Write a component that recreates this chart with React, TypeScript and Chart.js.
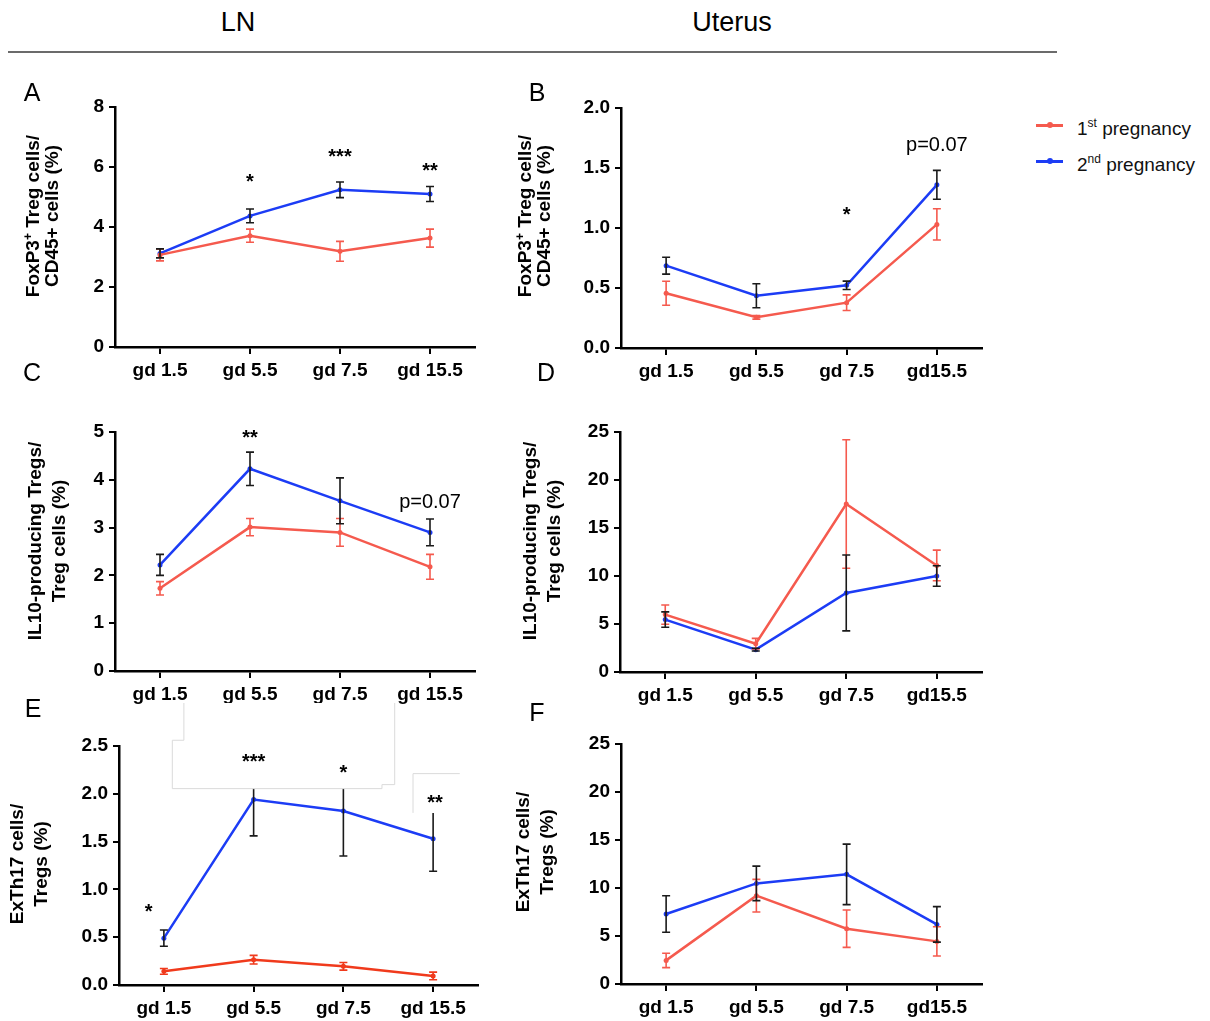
import React, { useEffect, useRef } from 'react';
import { Chart, registerables } from 'chart.js';

Chart.register(...registerables);

const FONT = '"Liberation Sans", Arial, Helvetica, sans-serif';
const RED = '#f55a4e';
const RED_E = '#f03a1c';
const BLUE = '#1c3cf5';
const ERR_DARK = '#1a1a1a';

// ---------- categories ----------
const labelsLN = ['gd 1.5', 'gd 5.5', 'gd 7.5', 'gd 15.5'];
const labelsUt = ['gd 1.5', 'gd 5.5', 'gd 7.5', 'gd15.5'];

// ---------- A: FoxP3+ Treg / CD45+ (LN) ----------
const aFirst = [3.07, 3.71, 3.19, 3.63];
const aFirstSem = [0.2, 0.22, 0.33, 0.3];
const aSecond = [3.12, 4.37, 5.24, 5.1];
const aSecondSem = [0.15, 0.23, 0.26, 0.25];
const aNotes: [number, number, string][] = [[1, 5.67, '*'], [2, 6.5, '***'], [3, 6.03, '**']];

// ---------- B: FoxP3+ Treg / CD45+ (Uterus) ----------
const bFirst = [0.456, 0.256, 0.378, 1.03];
const bFirstSem = [0.1, 0.015, 0.065, 0.13];
const bSecond = [0.686, 0.436, 0.522, 1.36];
const bSecondSem = [0.07, 0.1, 0.035, 0.12];
const bNotes: [number, number, string][] = [[2, 1.15, '*'], [3, 1.69, 'p=0.07']];

// ---------- C: IL10-producing Tregs (LN) ----------
const cFirst = [1.73, 3.01, 2.9, 2.18];
const cFirstSem = [0.14, 0.18, 0.29, 0.26];
const cSecond = [2.22, 4.23, 3.56, 2.9];
const cSecondSem = [0.22, 0.35, 0.48, 0.28];
const cNotes: [number, number, string][] = [[1, 4.97, '**'], [3, 3.53, 'p=0.07']];

// ---------- D: IL10-producing Tregs (Uterus) ----------
const dFirst = [5.98, 2.95, 17.5, 11.1];
const dFirstSem = [1.0, 0.55, 6.7, 1.6];
const dSecond = [5.46, 2.33, 8.23, 10.0];
const dSecondSem = [0.8, 0.15, 3.95, 1.07];
const dNotes: [number, number, string][] = [];

// ---------- E: ExTh17 / Tregs (LN) ----------
const eFirst = [0.143, 0.265, 0.196, 0.095];
const eFirstSem = [0.03, 0.045, 0.04, 0.04];
const eSecond = [0.49, 1.94, 1.82, 1.53];
const eSecondSem = [0.085, 0.38, 0.47, 0.34];
const eNotes: [number, number, string][] = [[-0.17, 0.82, '*'], [1, 2.39, '***'], [2, 2.27, '*'], [3.02, 1.96, '**']];
// pasted white patches in panel E (category index, value)
const eMaskFill1: [number, number][] = [[0.223, 2.95], [0.223, 2.56], [0.094, 2.56], [0.094, 2.054], [2.43, 2.054], [2.43, 2.096], [2.572, 2.096], [2.572, 2.95]];
const eMaskFill2: [number, number][] = [[2.776, 1.8], [2.776, 2.211], [3.297, 2.211], [3.297, 1.8]];
const eMaskEdge2: [number, number][] = [[2.776, 1.8], [2.776, 2.211], [3.297, 2.211]];

// ---------- F: ExTh17 / Tregs (Uterus) ----------
const fFirst = [2.46, 9.2, 5.76, 4.44];
const fFirstSem = [0.75, 1.7, 1.95, 1.53];
const fSecond = [7.29, 10.48, 11.42, 6.21];
const fSecondSem = [1.9, 1.8, 3.15, 1.85];
const fNotes: [number, number, string][] = [];

type Mask = { fill: [number, number][]; edge: [number, number][] };
type PanelCfg = {
  key: string;
  area: { l: number; t: number; r: number; b: number };
  padTop: number;
  yMax: number;
  step: number;
  dec: number;
  labels: string[];
  first: number[];
  firstSem: number[];
  second: number[];
  secondSem: number[];
  red: string;
  notes: [number, number, string][];
  masks: Mask[];
};

const YW = 70;
const XH = 50;
const PR = 12;

const panels: PanelCfg[] = [
  { key: 'A', area: { l: 115, t: 107, r: 475, b: 347 }, padTop: 30, yMax: 8, step: 2, dec: 0, labels: labelsLN, first: aFirst, firstSem: aFirstSem, second: aSecond, secondSem: aSecondSem, red: RED, notes: aNotes, masks: [] },
  { key: 'B', area: { l: 621, t: 108, r: 982, b: 348 }, padTop: 30, yMax: 2, step: 0.5, dec: 1, labels: labelsUt, first: bFirst, firstSem: bFirstSem, second: bSecond, secondSem: bSecondSem, red: RED, notes: bNotes, masks: [] },
  { key: 'C', area: { l: 115, t: 432, r: 475, b: 671 }, padTop: 30, yMax: 5, step: 1, dec: 0, labels: labelsLN, first: cFirst, firstSem: cFirstSem, second: cSecond, secondSem: cSecondSem, red: RED, notes: cNotes, masks: [] },
  { key: 'D', area: { l: 620, t: 432, r: 982, b: 672 }, padTop: 30, yMax: 25, step: 5, dec: 0, labels: labelsUt, first: dFirst, firstSem: dFirstSem, second: dSecond, secondSem: dSecondSem, red: RED, notes: dNotes, masks: [] },
  { key: 'E', area: { l: 119, t: 746, r: 478, b: 985 }, padTop: 52, yMax: 2.5, step: 0.5, dec: 1, labels: labelsLN, first: eFirst, firstSem: eFirstSem, second: eSecond, secondSem: eSecondSem, red: RED_E, notes: eNotes, masks: [{ fill: eMaskFill1, edge: eMaskFill1 }, { fill: eMaskFill2, edge: eMaskEdge2 }] },
  { key: 'F', area: { l: 621, t: 744, r: 982, b: 984 }, padTop: 30, yMax: 25, step: 5, dec: 0, labels: labelsUt, first: fFirst, firstSem: fFirstSem, second: fSecond, secondSem: fSecondSem, red: RED, notes: fNotes, masks: [] },
];

function makeOverlay(p: PanelCfg) {
  return {
    id: 'overlay' + p.key,
    afterDatasetsDraw(chart: any) {
      const ctx = chart.ctx;
      const xs = chart.scales.x;
      const ys = chart.scales.y;
      // error bars
      chart.data.datasets.forEach((ds: any, di: number) => {
        const meta = chart.getDatasetMeta(di);
        ctx.save();
        ctx.strokeStyle = ds.errColor;
        ctx.lineWidth = 1.6;
        meta.data.forEach((el: any, i: number) => {
          const v = ds.data[i];
          const e = ds.errs[i];
          const x = el.x;
          const yt = ys.getPixelForValue(v + e);
          const yb = ys.getPixelForValue(v - e);
          ctx.beginPath();
          ctx.moveTo(x, yt);
          ctx.lineTo(x, yb);
          ctx.moveTo(x - 4, yt);
          ctx.lineTo(x + 4, yt);
          ctx.moveTo(x - 4, yb);
          ctx.lineTo(x + 4, yb);
          ctx.stroke();
        });
        ctx.restore();
      });
      // white patches
      p.masks.forEach((m) => {
        const toPx = (pt: [number, number]) => [xs.getPixelForValue(pt[0]), ys.getPixelForValue(pt[1])];
        ctx.save();
        ctx.fillStyle = '#ffffff';
        ctx.beginPath();
        m.fill.map(toPx).forEach(([x, y], k) => (k ? ctx.lineTo(x, y) : ctx.moveTo(x, y)));
        ctx.closePath();
        ctx.fill();
        ctx.strokeStyle = '#dadada';
        ctx.lineWidth = 1;
        ctx.beginPath();
        m.edge.map(toPx).forEach(([x, y], k) => (k ? ctx.lineTo(x, y) : ctx.moveTo(x, y)));
        ctx.stroke();
        ctx.restore();
      });
      // significance notes
      p.notes.forEach(([i, v, t]) => {
        const x = xs.getPixelForValue(i);
        const y = ys.getPixelForValue(v);
        const star = /^\*+$/.test(t);
        ctx.save();
        ctx.fillStyle = '#000';
        ctx.textAlign = 'center';
        if (star) {
          ctx.font = `bold 20px ${FONT}`;
          ctx.textBaseline = 'alphabetic';
          ctx.fillText(t, x, y + 11);
        } else {
          ctx.font = `normal 20px ${FONT}`;
          ctx.textBaseline = 'middle';
          ctx.fillText(t, x, y);
        }
        ctx.restore();
      });
    },
  };
}

function PanelChart({ p }: { p: PanelCfg }) {
  const ref = useRef<HTMLCanvasElement>(null);
  const W = p.area.r - p.area.l + YW + PR;
  const H = p.area.b - p.area.t + p.padTop + XH;
  useEffect(() => {
    const tickFont = { family: FONT, size: 19, weight: 'bold' as const };
    const chart = new Chart(ref.current!, {
      type: 'line',
      data: {
        labels: p.labels,
        datasets: [
          {
            label: '1st pregnancy',
            data: p.first,
            errs: p.firstSem,
            errColor: p.red,
            borderColor: p.red,
            backgroundColor: p.red,
            pointBackgroundColor: p.red,
            borderWidth: 2.5,
            pointRadius: 2.5,
            pointBorderWidth: 0,
            tension: 0,
            fill: false,
          } as any,
          {
            label: '2nd pregnancy',
            data: p.second,
            errs: p.secondSem,
            errColor: ERR_DARK,
            borderColor: BLUE,
            backgroundColor: BLUE,
            pointBackgroundColor: BLUE,
            borderWidth: 2.5,
            pointRadius: 2.5,
            pointBorderWidth: 0,
            tension: 0,
            fill: false,
          } as any,
        ],
      },
      options: {
        responsive: false,
        animation: false,
        devicePixelRatio: 1,
        layout: { padding: { left: 0, top: p.padTop, right: PR, bottom: 0 } },
        plugins: { legend: { display: false }, tooltip: { enabled: false } },
        scales: {
          x: {
            type: 'category',
            offset: true,
            ticks: { color: '#000', font: tickFont, padding: 5, maxRotation: 0, autoSkip: false },
            grid: { display: true, drawOnChartArea: false, drawTicks: true, tickLength: 7, color: '#000', lineWidth: 2, offset: false },
            border: { display: true, color: '#000', width: 2.5 },
            afterFit: (s: any) => { s.height = XH; },
          },
          y: {
            min: 0,
            max: p.yMax,
            ticks: {
              stepSize: p.step,
              color: '#000',
              font: tickFont,
              padding: 5,
              callback: (v: any) => Number(v).toFixed(p.dec),
            },
            grid: { display: true, drawOnChartArea: false, drawTicks: true, tickLength: 6, color: '#000', lineWidth: 2 },
            border: { display: true, color: '#000', width: 2.5 },
            afterFit: (s: any) => { s.width = YW; },
          },
        },
      },
      plugins: [makeOverlay(p)],
    } as any);
    return () => chart.destroy();
  }, []);
  return (
    <canvas
      ref={ref}
      width={W}
      height={H}
      style={{ position: 'absolute', left: p.area.l - YW, top: p.area.t - p.padTop, width: W, height: H }}
    />
  );
}

type TitleCfg = { cx: number; cy: number; l1: React.ReactNode; l2: string };
const titles: TitleCfg[] = [
  { cx: 40, cy: 216, l1: <>FoxP3<sup style={{ fontSize: 12 }}>+</sup> Treg cells/</>, l2: 'CD45+ cells (%)' },
  { cx: 532, cy: 216, l1: <>FoxP3<sup style={{ fontSize: 12 }}>+</sup> Treg cells/</>, l2: 'CD45+ cells (%)' },
  { cx: 47, cy: 541, l1: 'IL10-producing Tregs/', l2: 'Treg cells (%)' },
  { cx: 542, cy: 541, l1: 'IL10-producing Tregs/', l2: 'Treg cells (%)' },
  { cx: 29, cy: 864, l1: 'ExTh17 cells/', l2: 'Tregs (%)' },
  { cx: 535, cy: 852, l1: 'ExTh17 cells/', l2: 'Tregs (%)' },
];

const letters: [string, number, number][] = [
  ['A', 32, 92], ['B', 537, 92], ['C', 32, 372], ['D', 546, 372], ['E', 33, 708], ['F', 537, 712],
];

function AxisTitle({ t }: { t: TitleCfg }) {
  return (
    <div
      style={{
        position: 'absolute',
        left: t.cx,
        top: t.cy,
        transform: 'translate(-50%, -50%) rotate(-90deg)',
        whiteSpace: 'nowrap',
        textAlign: 'center',
        fontFamily: FONT,
        fontWeight: 'bold',
        fontSize: 19,
        lineHeight: '24px',
        color: '#000',
      }}
    >
      <div style={{ height: 24 }}>{t.l1}</div>
      <div style={{ height: 24 }}>{t.l2}</div>
    </div>
  );
}

function LegendItem({ color, top, sup }: { color: string; top: number; sup: string }) {
  return (
    <>
      <div style={{ position: 'absolute', left: 1036, top: top - 1, width: 27, height: 2.5, background: color }} />
      <div style={{ position: 'absolute', left: 1046.5, top: top - 3, width: 6, height: 6, borderRadius: 3, background: color }} />
      <div
        style={{
          position: 'absolute',
          left: 1077,
          top: top - 8,
          height: 24,
          lineHeight: '24px',
          fontFamily: FONT,
          fontSize: 19,
          color: '#111',
          whiteSpace: 'nowrap',
        }}
      >
        {sup === 'st' ? '1' : '2'}
        <span style={{ fontSize: 12, position: 'relative', top: -8 }}>{sup}</span>
        {' '}pregnancy
      </div>
    </>
  );
}

export default function App() {
  return (
    <div style={{ position: 'absolute', left: 0, top: 0, width: 1210, height: 1021, background: '#fff', overflow: 'hidden' }}>
      <div style={{ position: 'absolute', left: 238, top: 22, transform: 'translate(-50%, -50%)', fontFamily: FONT, fontSize: 27, color: '#000' }}>LN</div>
      <div style={{ position: 'absolute', left: 732, top: 22, transform: 'translate(-50%, -50%)', fontFamily: FONT, fontSize: 27, color: '#000' }}>Uterus</div>
      <div style={{ position: 'absolute', left: 8, top: 51, width: 1049, height: 2, background: '#6b6b6b' }} />
      {panels.map((p) => (
        <PanelChart key={p.key} p={p} />
      ))}
      {titles.map((t, i) => (
        <AxisTitle key={i} t={t} />
      ))}
      {letters.map(([s, x, y]) => (
        <div key={s} style={{ position: 'absolute', left: x, top: y, transform: 'translate(-50%, -50%)', fontFamily: FONT, fontSize: 25, color: '#000' }}>{s}</div>
      ))}
      <LegendItem color={RED} top={125} sup="st" />
      <LegendItem color={BLUE} top={161} sup="nd" />
    </div>
  );
}
